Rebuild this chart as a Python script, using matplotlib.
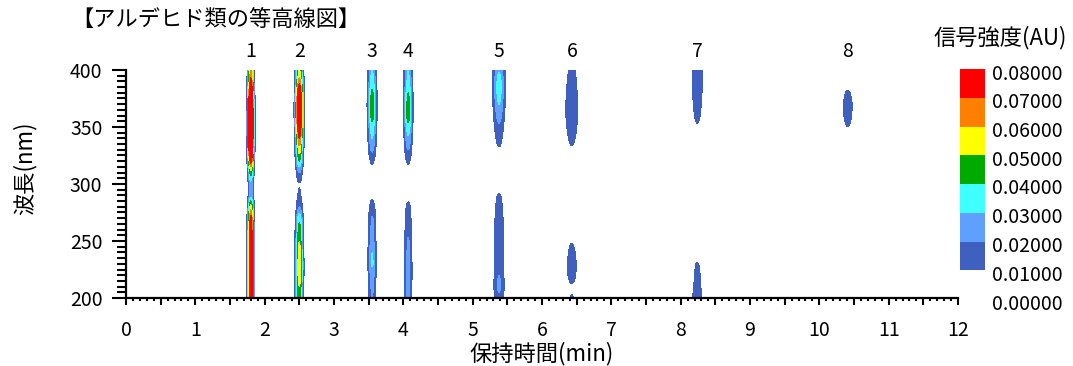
# -*- coding: utf-8 -*-
# アルデヒド類の等高線図 (保持時間 x 波長)

import numpy as np
import matplotlib
matplotlib.use('Agg')
import matplotlib.pyplot as plt
from matplotlib.colors import ListedColormap, BoundaryNorm
from matplotlib.cm import ScalarMappable
from matplotlib.ticker import MultipleLocator, FuncFormatter
from matplotlib.transforms import offset_copy

plt.rcParams['font.family'] = ['Noto Sans CJK JP', 'DejaVu Sans']

# 波長 (nm)
wavelength = np.arange(200, 401, 10)

# ピーク番号, 保持時間 (min), ピーク幅 (min)
peak_no = ['1', '2', '3', '4', '5', '6', '7', '8']
peak_rt = [1.80, 2.50, 3.55, 4.07, 5.38, 6.43, 8.24, 10.41]
peak_sd = [0.028, 0.036, 0.042, 0.042, 0.060, 0.080, 0.070, 0.080]

# 各ピークのスペクトル (AU)  200, 210, ..., 400 nm
spec1 = [0.085, 0.085, 0.085, 0.090, 0.090, 0.085, 0.085, 0.075, 0.055, 0.026, 0.025,
         0.045, 0.075, 0.110, 0.135, 0.140, 0.140, 0.130, 0.100, 0.075, 0.060]
spec2 = [0.050, 0.050, 0.058, 0.060, 0.055, 0.050, 0.045, 0.037, 0.020, 0.012, 0.009,
         0.020, 0.040, 0.055, 0.070, 0.090, 0.100, 0.100, 0.090, 0.065, 0.050]
spec3 = [0.020, 0.022, 0.025, 0.032, 0.030, 0.024, 0.022, 0.021, 0.015, 0.007, 0.003,
         0.005, 0.012, 0.022, 0.030, 0.036, 0.045, 0.048, 0.042, 0.035, 0.030]
spec4 = [0.022, 0.023, 0.024, 0.024, 0.022, 0.021, 0.018, 0.016, 0.013, 0.006, 0.002,
         0.005, 0.012, 0.020, 0.028, 0.036, 0.046, 0.045, 0.040, 0.033, 0.030]
spec5 = [0.018, 0.022, 0.020, 0.018, 0.018, 0.018, 0.017, 0.016, 0.014, 0.011, 0.004,
         0.001, 0.004, 0.009, 0.013, 0.018, 0.024, 0.030, 0.034, 0.034, 0.029]
spec6 = [0.0105, 0.009, 0.013, 0.014, 0.012, 0.0095, 0.005, 0.002, 0.002, 0.002, 0.002,
         0.002, 0.002, 0.009, 0.012, 0.015, 0.018, 0.018, 0.016, 0.014, 0.012]
spec7 = [0.016, 0.013, 0.012, 0.0105, 0.005, 0.002, 0.002, 0.002, 0.002, 0.002, 0.002,
         0.002, 0.002, 0.002, 0.002, 0.009, 0.012, 0.014, 0.016, 0.018, 0.018]
spec8 = [0.001, 0.001, 0.001, 0.001, 0.001, 0.001, 0.001, 0.001, 0.001, 0.001, 0.001,
         0.001, 0.001, 0.001, 0.005, 0.010, 0.013, 0.014, 0.011, 0.006, 0.003]
spectra = [spec1, spec2, spec3, spec4, spec5, spec6, spec7, spec8]

# 等高線レベルと色
levels = [0.00, 0.01, 0.02, 0.03, 0.04, 0.05, 0.06, 0.07, 0.08]
band_colors = ['#4060C0', '#5FA0FF', '#40FFFF', '#00AA00', '#FFFF00', '#FF8000', '#FF0000']

# 信号強度の2次元マップ
time = np.linspace(0, 12, 2401)
Z = np.zeros((len(wavelength), len(time)))
for rt, sd, sp in zip(peak_rt, peak_sd, spectra):
    Z += np.outer(sp, np.exp(-0.5 * ((time - rt) / sd) ** 2))

fig = plt.figure(figsize=(10.73, 3.66), dpi=100)
ax = fig.add_axes([126 / 1073, 1 - 298 / 366, 832 / 1073, 228 / 366])

cmap = ListedColormap(band_colors)
cmap.set_over('#FF0000')
norm = BoundaryNorm(levels[1:], len(band_colors))
ax.contourf(time, wavelength, Z, levels=levels[1:], cmap=cmap, norm=norm, extend='max')

ax.set_xlim(0, 12)
ax.set_ylim(200, 400)
for s in ['top', 'right']:
    ax.spines[s].set_visible(False)
for s in ['left', 'bottom']:
    ax.spines[s].set_linewidth(1.6)

ax.xaxis.set_major_locator(MultipleLocator(0.5))
ax.xaxis.set_minor_locator(MultipleLocator(0.1))
ax.xaxis.set_major_formatter(FuncFormatter(lambda v, p: '%d' % v if abs(v - round(v)) < 1e-6 else ''))
ax.yaxis.set_major_locator(MultipleLocator(50))
ax.yaxis.set_minor_locator(MultipleLocator(5))
ax.tick_params(axis='x', which='major', length=5, width=1.5, pad=10.5, labelsize=14)
ax.tick_params(axis='x', which='minor', length=2.5, width=1.5)
ax.tick_params(axis='y', which='major', length=10, width=1.5, pad=7, labelsize=14)
ax.tick_params(axis='y', which='minor', length=6.5, width=1.5)

ax.set_xlabel('保持時間(min)', fontsize=16, labelpad=1)
ax.set_ylabel('波長(nm)', fontsize=16)
ax.yaxis.set_label_coords(-0.108, 0.57)

# ピーク番号
for no, rt in zip(peak_no, peak_rt):
    ax.text(rt, 1.08, no, transform=ax.get_xaxis_transform(), ha='center', va='center', fontsize=14)

fig.text(216 / 1073, 1 - 20 / 366, '【アルデヒド類の等高線図】', ha='center', va='center', fontsize=16)

# カラーバー
cax = fig.add_axes([960 / 1073, 1 - 299 / 366, 25 / 1073, 230 / 366])
bar_cmap = ListedColormap(['white'] + band_colors)
bar_norm = BoundaryNorm(levels, len(levels) - 1)
cb = fig.colorbar(ScalarMappable(norm=bar_norm, cmap=bar_cmap), cax=cax, ticks=levels)
cb.outline.set_visible(False)
cax.tick_params(length=0, labelright=False)
lab_tr = offset_copy(cax.transData, fig=fig, x=7, y=-5, units='dots')
for v in levels:
    cax.text(1, v, '%.5f' % v, transform=lab_tr, ha='left', va='center', fontsize=14)
fig.text(1000 / 1073, 1 - 38 / 366, '信号強度(AU)', ha='center', va='center', fontsize=16)

fig.savefig('out.png', dpi=100)
